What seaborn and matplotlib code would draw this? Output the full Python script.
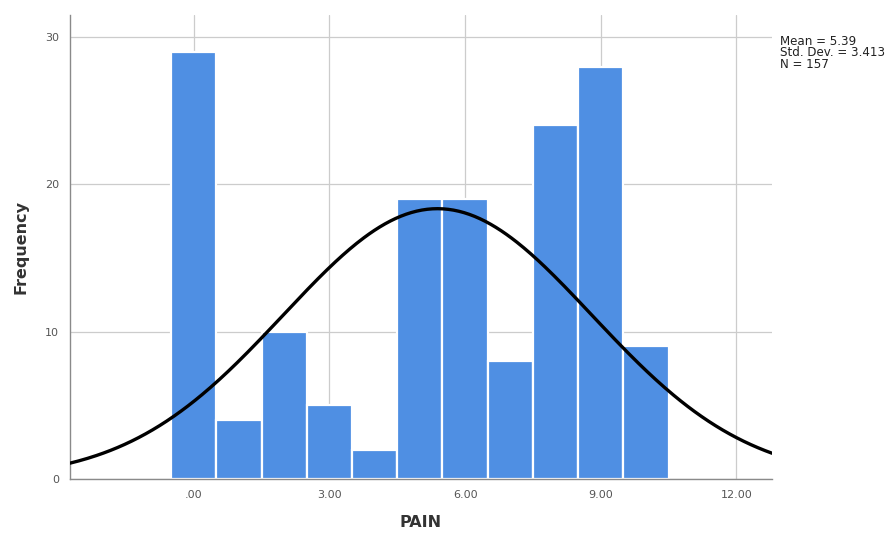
import numpy as np
import pandas as pd
import matplotlib
matplotlib.use("Agg")
import matplotlib.pyplot as plt
import seaborn as sns

# PAIN score distribution
pain_scores = [0, 1, 2, 3, 4, 5, 6, 7, 8, 9, 10]
frequencies = [29, 4, 10, 5, 2, 19, 19, 8, 24, 28, 9]

# Summary statistics shown in the legend box
mean_value = 5.39
std_dev = 3.413
n_total = 157

x_ticks = [0, 3, 6, 9, 12]
x_tick_labels = [".00", "3.00", "6.00", "9.00", "12.00"]
y_ticks = [0, 10, 20, 30]

sns.set_theme(style="white")
plt.rcParams["font.family"] = ["DejaVu Sans"]

fig = plt.figure(figsize=(8.95, 5.34), dpi=100)
ax = fig.add_axes([0.0782, 0.1030, 0.7844, 0.8689])

df = pd.DataFrame({"PAIN": pain_scores, "count": frequencies})
sns.histplot(data=df, x="PAIN", weights="count", discrete=True, shrink=1.0,
             color="#4f8fe3", alpha=1.0, edgecolor="white", linewidth=1.6,
             ax=ax, zorder=2)

x_min, x_max = -2.74, 12.79
ax.set_xlim(x_min, x_max)
ax.set_ylim(0, 31.5)

# Fitted normal curve scaled to counts (bin width 1)
xs = np.linspace(x_min, x_max, 400)
ys = n_total * 1.0 / (std_dev * np.sqrt(2 * np.pi)) * np.exp(-0.5 * ((xs - mean_value) / std_dev) ** 2)
ax.plot(xs, ys, color="black", linewidth=2.4, zorder=3)

ax.set_xticks(x_ticks)
ax.set_xticklabels(x_tick_labels)
ax.set_yticks(y_ticks)
ax.set_yticklabels([str(v) for v in y_ticks])
ax.tick_params(axis="both", length=0, labelsize=8, colors="#555555", pad=8)

ax.grid(True, color="#cccccc", linewidth=0.9, zorder=0)
ax.set_axisbelow(True)
for side in ["top", "right"]:
    ax.spines[side].set_visible(False)
for side in ["left", "bottom"]:
    ax.spines[side].set_color("#8a8a8a")
    ax.spines[side].set_linewidth(1.0)

ax.set_xlabel("PAIN", fontsize=11.5, fontweight="bold", color="#333333", labelpad=11)
ax.set_ylabel("Frequency", fontsize=11.5, fontweight="bold", color="#333333", labelpad=12)

fig.text(0.871, 0.901,
         f"Mean = {mean_value}\nStd. Dev. = {std_dev}\nN = {n_total}",
         fontsize=8.6, color="#222222", va="center", ha="left", linespacing=0.88)

fig.savefig("out.png", dpi=100)
